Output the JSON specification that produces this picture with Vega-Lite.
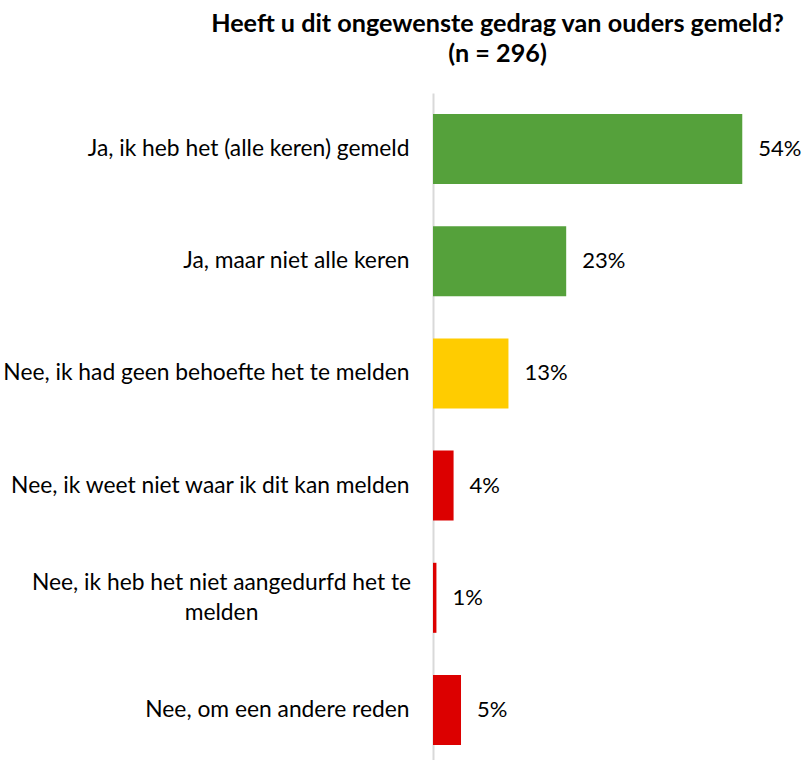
{
  "$schema": "https://vega.github.io/schema/vega-lite/v6.json",
  "width": 343,
  "height": 673,
  "autosize": {"type": "none"},
  "padding": {"left": 433, "top": 93, "right": 26, "bottom": 0},
  "background": "white",
  "title": {
    "text": ["Heeft u dit ongewenste gedrag van ouders gemeld?", "(n = 296)"],
    "font": "Lato",
    "fontSize": 25.2,
    "fontWeight": "bold",
    "color": "#000000",
    "anchor": "middle",
    "dx": -107,
    "offset": 26,
    "lineHeight": 30
  },
  "data": {
    "values": [
      {"answer": "Ja, ik heb het (alle keren) gemeld", "pct": 54.1, "label": "54%", "group": "ja"},
      {"answer": "Ja, maar niet alle keren", "pct": 23.3, "label": "23%", "group": "ja"},
      {"answer": "Nee, ik had geen behoefte het te melden", "pct": 13.2, "label": "13%", "group": "geen behoefte"},
      {"answer": "Nee, ik weet niet waar ik dit kan melden", "pct": 3.6, "label": "4%", "group": "nee"},
      {"answer": "Nee, ik heb het niet aangedurfd het te melden", "pct": 0.6, "label": "1%", "group": "nee"},
      {"answer": "Nee, om een andere reden", "pct": 4.9, "label": "5%", "group": "nee"}
    ]
  },
  "encoding": {
    "y": {
      "field": "answer",
      "type": "nominal",
      "sort": null,
      "scale": {"paddingInner": 0.376, "paddingOuter": 0.187},
      "axis": {
        "title": null,
        "ticks": false,
        "domain": true,
        "domainColor": "#d9d9d9",
        "domainWidth": 2,
        "labelFont": "Lato",
        "labelFontSize": 22.8,
        "labelColor": "#000000",
        "labelLimit": 0,
        "labelLineHeight": 30,
        "labelAlign": {"condition": {"test": "datum.value === 'Nee, ik heb het niet aangedurfd het te melden'", "value": "center"}, "value": "right"},
        "labelPadding": {"condition": {"test": "datum.value === 'Nee, ik heb het niet aangedurfd het te melden'", "value": 212}, "value": 24},
        "labelOffset": {"condition": {"test": "datum.value === 'Nee, ik heb het niet aangedurfd het te melden'", "value": -15}, "value": 0},
        "labelExpr": "datum.value === 'Nee, ik heb het niet aangedurfd het te melden' ? ['Nee, ik heb het niet aangedurfd het te', 'melden'] : datum.value"
      }
    }
  },
  "layer": [
    {
      "mark": {"type": "bar"},
      "encoding": {
        "x": {"field": "pct", "type": "quantitative", "scale": {"domain": [0, 60]}, "axis": null},
        "color": {
          "field": "group",
          "type": "nominal",
          "scale": {"domain": ["ja", "geen behoefte", "nee"], "range": ["#55A13B", "#FFCC00", "#DC0000"]},
          "legend": null
        }
      }
    },
    {
      "mark": {"type": "text", "align": "left", "baseline": "middle", "dx": 16, "font": "Lato", "fontSize": 22, "color": "#000000"},
      "encoding": {
        "x": {"field": "pct", "type": "quantitative"},
        "text": {"field": "label"}
      }
    }
  ],
  "config": {"view": {"stroke": null}}
}
